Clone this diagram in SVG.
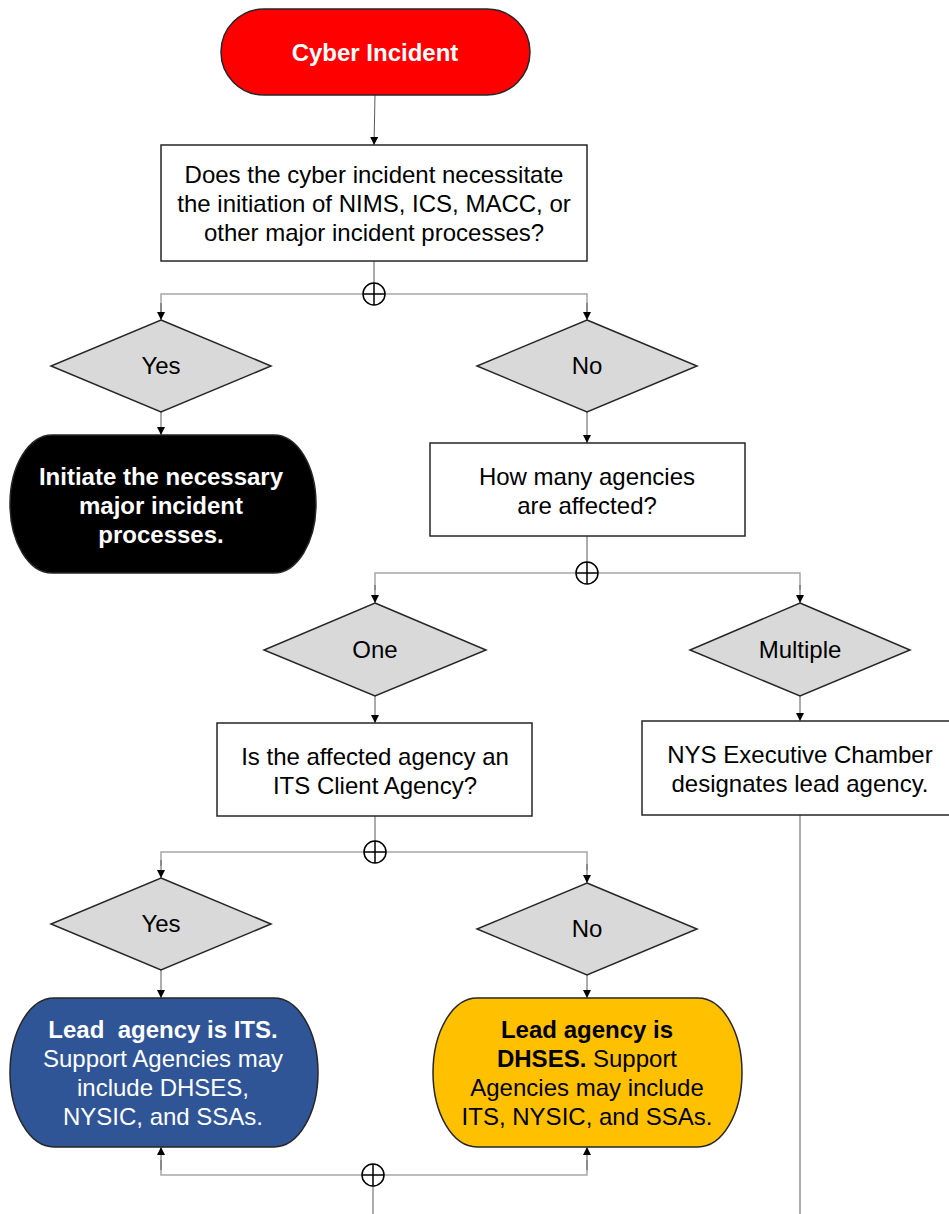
<svg xmlns="http://www.w3.org/2000/svg" width="949" height="1214" viewBox="0 0 949 1214">
<defs>
<marker id="arr" viewBox="0 0 10 10" refX="10" refY="5" markerWidth="8" markerHeight="8" markerUnits="userSpaceOnUse" orient="auto">
<path d="M0,0 L10,5 L0,10 Z" fill="#000"/>
</marker>
<style>
text{font-family:"Liberation Sans",Arial,sans-serif;font-size:24px;text-anchor:middle;fill:#000}
.b{font-weight:bold}
.w{fill:#fff}
.box{fill:#fff;stroke:#262626;stroke-width:1.5}
.dia{fill:#d9d9d9;stroke:#262626;stroke-width:1.5}
.term{stroke:#262626;stroke-width:1.5}
.v{stroke:#595959;stroke-width:1;fill:none}
.h{stroke:#a6a6a6;stroke-width:1.5;fill:none}
.ar{marker-end:url(#arr)}
.j{fill:#fff;stroke:#000;stroke-width:1.5}
</style>
</defs>
<g id="connectors">
<path class="v ar" d="M375,95 L374,145"/>
<path class="v" d="M374,261 V283"/>
<path class="h" d="M363,294 H161 V312"/>
<path class="h" d="M385,294 H587 V312"/>
<path class="v ar" d="M161,303 V320"/>
<path class="v ar" d="M587,303 V320"/>
<path class="v ar" d="M161,412 V435"/>
<path class="v ar" d="M587,412 V443"/>
<path class="v" d="M587,536 V562"/>
<path class="h" d="M576,573 H375 V590"/>
<path class="h" d="M598,573 H800 V590"/>
<path class="v ar" d="M375,585 V603"/>
<path class="v ar" d="M800,585 V603"/>
<path class="v ar" d="M375,696 V723"/>
<path class="v ar" d="M800,696 V721"/>
<path class="v" d="M800,815 V1214"/>
<path class="v" d="M375,816 V841"/>
<path class="h" d="M364,852 H161 V866"/>
<path class="h" d="M386,852 H587 V870"/>
<path class="v ar" d="M161,860 V878"/>
<path class="v ar" d="M587,864 V883"/>
<path class="v ar" d="M161,970 V998"/>
<path class="v ar" d="M587,975 V998"/>
<path class="h" d="M362,1175 H161 V1160"/>
<path class="h" d="M384,1175 H587 V1160"/>
<path class="v ar" d="M161,1170 V1147"/>
<path class="v ar" d="M587,1170 V1147"/>
<path class="v" d="M373,1186 V1214"/>
<g id="j1"><circle class="j" cx="374" cy="294" r="11"/><path class="j" d="M363,294 H385 M374,283 V305"/></g>
<g id="j2"><circle class="j" cx="587" cy="573" r="11"/><path class="j" d="M576,573 H598 M587,562 V584"/></g>
<g id="j3"><circle class="j" cx="375" cy="852" r="11"/><path class="j" d="M364,852 H386 M375,841 V863"/></g>
<g id="j4"><circle class="j" cx="373" cy="1175" r="11"/><path class="j" d="M362,1175 H384 M373,1164 V1186"/></g>
</g>
<g id="start">
<rect class="term" x="221" y="9" width="309" height="86" rx="43" ry="43" fill="#ff0000"/>
<text class="b w" x="375" y="61">Cyber Incident</text>
</g>
<g id="q1">
<rect class="box" x="161" y="145" width="426" height="116"/>
<text x="374" y="183">Does the cyber incident necessitate</text>
<text x="374" y="212">the initiation of NIMS, ICS, MACC, or</text>
<text x="374" y="241">other major incident processes?</text>
</g>
<g id="yes1">
<path class="dia" d="M161,320 L271,366 L161,412 L51,366 Z"/>
<text x="161" y="374">Yes</text>
</g>
<g id="no1">
<path class="dia" d="M587,320 L697,366 L587,412 L477,366 Z"/>
<text x="587" y="374">No</text>
</g>
<g id="initiate">
<path class="term" fill="#000" d="M52,435 H274 A42 69 0 0 1 274,573 H52 A42 69 0 0 1 52,435 Z"/>
<text class="b w" x="161" y="485">Initiate the necessary</text>
<text class="b w" x="161" y="514">major incident</text>
<text class="b w" x="161" y="543">processes.</text>
</g>
<g id="q2">
<rect class="box" x="430" y="443" width="315" height="93"/>
<text x="587" y="485">How many agencies</text>
<text x="587" y="514">are affected?</text>
</g>
<g id="one">
<path class="dia" d="M375,603 L486,650 L375,696 L264,650 Z"/>
<text x="375" y="658">One</text>
</g>
<g id="multiple">
<path class="dia" d="M800,603 L910,650 L800,696 L690,650 Z"/>
<text x="800" y="658">Multiple</text>
</g>
<g id="q3">
<rect class="box" x="217" y="723" width="315" height="93"/>
<text x="375" y="765">Is the affected agency an</text>
<text x="375" y="794">ITS Client Agency?</text>
</g>
<g id="exec">
<rect class="box" x="642" y="721" width="312" height="94"/>
<text x="800" y="763">NYS Executive Chamber</text>
<text x="800" y="792">designates lead agency.</text>
</g>
<g id="yes2">
<path class="dia" d="M161,878 L271,924 L161,970 L51,924 Z"/>
<text x="161" y="932">Yes</text>
</g>
<g id="no2">
<path class="dia" d="M587,883 L697,929 L587,975 L477,929 Z"/>
<text x="587" y="937">No</text>
</g>
<g id="its">
<path class="term" fill="#2f5597" d="M54,998 H274 A44 74.5 0 0 1 274,1147 H54 A44 74.5 0 0 1 54,998 Z"/>
<text class="b w" x="163" y="1038">Lead&#160; agency is ITS.</text>
<text class="w" x="163" y="1067">Support Agencies may</text>
<text class="w" x="163" y="1096">include DHSES,</text>
<text class="w" x="163" y="1125">NYSIC, and SSAs.</text>
</g>
<g id="dhses">
<path class="term" fill="#ffc000" d="M477,998 H698 A44 74.5 0 0 1 698,1147 H477 A44 74.5 0 0 1 477,998 Z"/>
<text class="b" x="587" y="1038">Lead agency is</text>
<text x="587" y="1067"><tspan class="b">DHSES.</tspan> Support</text>
<text x="587" y="1096">Agencies may include</text>
<text x="587" y="1125">ITS, NYSIC, and SSAs.</text>
</g>
</svg>
